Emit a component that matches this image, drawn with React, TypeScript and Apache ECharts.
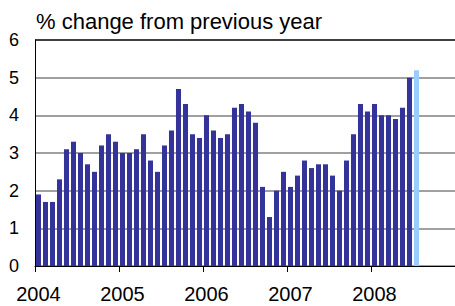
import React, { useEffect, useRef } from "react";
import * as echarts from "echarts";

const titleText = "% change from previous year";
const years = [2004, 2005, 2006, 2007, 2008];
const monthsPerYear = 12;

// Monthly values Jan 2004 .. Jun 2008
const values: number[] = [
  1.9, 1.7, 1.7, 2.3, 3.1, 3.3, 3.0, 2.7, 2.5, 3.2, 3.5, 3.3,
  3.0, 3.0, 3.1, 3.5, 2.8, 2.5, 3.2, 3.6, 4.7, 4.3, 3.5, 3.4,
  4.0, 3.6, 3.4, 3.5, 4.2, 4.3, 4.1, 3.8, 2.1, 1.3, 2.0, 2.5,
  2.1, 2.4, 2.8, 2.6, 2.7, 2.7, 2.4, 2.0, 2.8, 3.5, 4.3, 4.1,
  4.3, 4.0, 4.0, 3.9, 4.2, 5.0,
];
// Latest month (Jul 2008), highlighted
const latestValue = 5.2;

const yTicks = [0, 1, 2, 3, 4, 5, 6];

const categories: string[] = [];
years.forEach((y) => {
  for (let m = 1; m <= monthsPerYear; m++) {
    categories.push(`${y}-${m < 10 ? "0" + m : m}`);
  }
});

const DARK = "#333399";
const LIGHT = "#99ccff";
const FONT = "'Liberation Sans', Arial, sans-serif";

export default function App() {
  const ref = useRef<HTMLDivElement>(null);

  useEffect(() => {
    document.body.style.margin = "0";
    if (!ref.current) return;
    const chart = echarts.init(ref.current, undefined, { renderer: "svg" });

    const data: any[] = categories.map((_, i) => {
      if (i < values.length) return values[i];
      if (i === values.length)
        return { value: latestValue, itemStyle: { color: LIGHT } };
      return null;
    });

    const gridColors = yTicks.map((t, i) =>
      i === yTicks.length - 1 ? "#000000" : "#808080"
    );

    chart.setOption({
      animation: false,
      textStyle: { fontFamily: FONT },
      title: {
        text: titleText,
        left: 31,
        top: 5,
        textStyle: {
          fontFamily: FONT,
          fontSize: 22,
          fontWeight: "normal",
          color: "#000",
        },
      },
      grid: { left: 35, right: 0, top: 40, bottom: 40, containLabel: false },
      xAxis: {
        type: "category",
        data: categories,
        boundaryGap: true,
        axisLine: { show: true, lineStyle: { color: "#000", width: 1 } },
        axisTick: {
          show: true,
          inside: false,
          length: 6,
          alignWithLabel: false,
          interval: (index: number) => index % monthsPerYear === 0,
          lineStyle: { color: "#000" },
        },
        axisLabel: {
          interval: (index: number) => index % monthsPerYear === 0,
          formatter: (v: string) => v.slice(0, 4),
          fontSize: 20,
          color: "#000",
          margin: 18,
          fontFamily: FONT,
        },
        splitLine: { show: false },
      },
      yAxis: {
        type: "value",
        min: 0,
        max: 6,
        interval: 1,
        axisLine: { show: true, lineStyle: { color: "#000", width: 1 } },
        axisTick: { show: false },
        axisLabel: {
          fontSize: 18,
          color: "#000",
          margin: 16,
          fontFamily: FONT,
        },
        splitLine: {
          show: true,
          lineStyle: { color: gridColors, width: 1.5 },
        },
      },
      series: [
        {
          type: "bar",
          data,
          barCategoryGap: "28%",
          itemStyle: { color: DARK },
        },
      ],
    });

    return () => chart.dispose();
  }, []);

  return <div ref={ref} style={{ width: 455, height: 306 }} />;
}
